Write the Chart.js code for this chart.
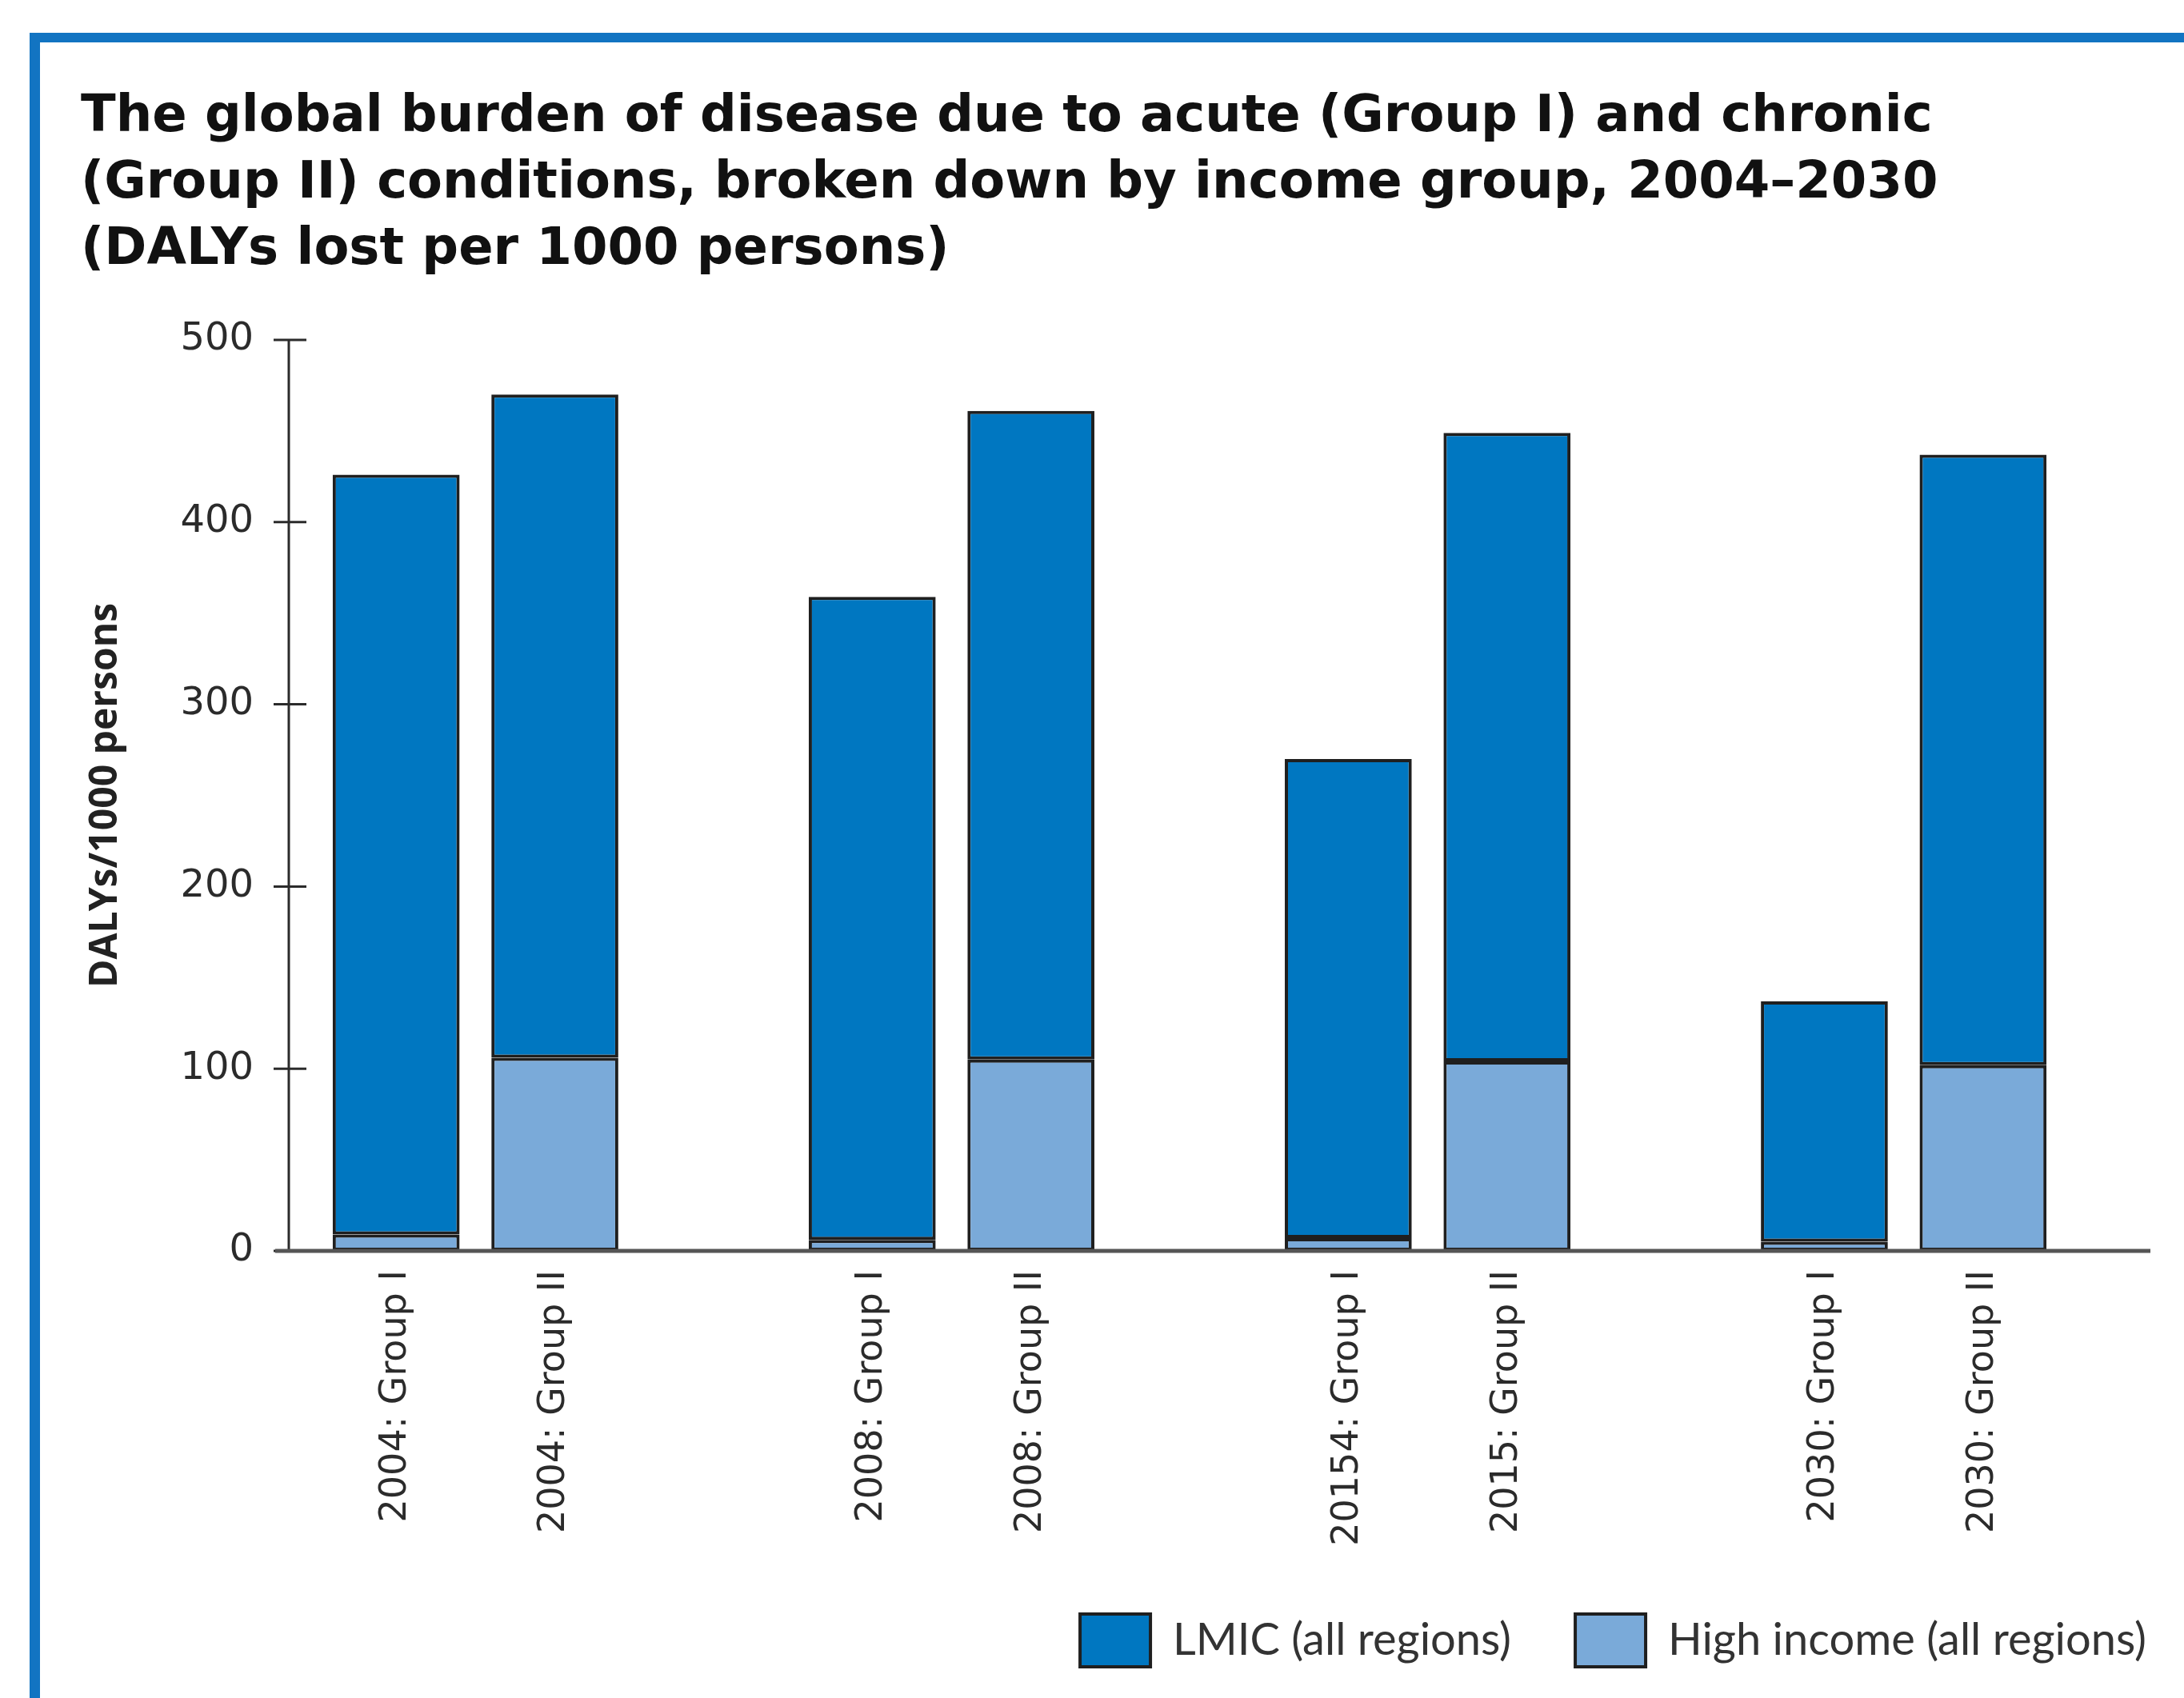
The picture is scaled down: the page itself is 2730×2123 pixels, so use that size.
<!DOCTYPE html>
<html>
<head>
<meta charset="utf-8">
<title>Global burden of disease by income group, 2004–2030</title>
<script src="https://cdn.jsdelivr.net/npm/chart.js@4.4.1/dist/chart.umd.min.js"></script>
<style>
  html, body { margin: 0; padding: 0; background: #fff; overflow: hidden; }
  #frame { position: absolute; left: 37px; top: 41px; width: 3000px; height: 3000px;
           border-top: 12px solid #1274c2; border-left: 13px solid #1274c2; }
  #wrap { position: absolute; left: 0; top: 0; width: 2730px; height: 2123px; }
</style>
</head>
<body>
<div id="frame"></div>
<div id="wrap"><canvas id="chart" width="2730" height="2123"></canvas></div>
<script>
// bar labels, two per year
const categories = ['2004: Group I', '2004: Group II', '2008: Group I', '2008: Group II',
                    '20154: Group I', '2015: Group II', '2030: Group I', '2030: Group II'];
// DALYs lost per 1000 persons
const highIncome = [9, 106, 6, 105, 7, 104, 5, 102];
const lmic = [417, 364, 353, 356, 263, 345, 132, 335];   // part above high income
const yTicks = [0, 100, 200, 300, 400, 500];

// put an empty slot between each year pair
function withGaps(arr, blank) {
    const out = [];
    arr.forEach((v, i) => {
        if (i > 0 && i % 2 === 0) out.push(blank);
        out.push(v);
    });
    return out;
}

// axis lines with ticks crossing the y axis
const axesPlugin = {
    id: 'axes',
    afterDatasetsDraw(chart) {
        const ctx = chart.ctx;
        const y = chart.scales.y;
        const area = chart.chartArea;
        const axisX = area.left - 35;
        const y0 = y.getPixelForValue(0);
        ctx.save();
        ctx.strokeStyle = '#2b2b2b';
        ctx.lineWidth = 3;
        ctx.beginPath();
        ctx.moveTo(axisX, y.getPixelForValue(yTicks[yTicks.length - 1]));
        ctx.lineTo(axisX, y0);
        yTicks.forEach(t => {
            const py = y.getPixelForValue(t);
            ctx.moveTo(axisX - 19, py);
            ctx.lineTo(axisX + 22, py);
        });
        ctx.stroke();
        ctx.strokeStyle = '#555';
        ctx.lineWidth = 5;
        ctx.beginPath();
        ctx.moveTo(axisX - 17, y0);
        ctx.lineTo(area.right + 110, y0);
        ctx.stroke();
        ctx.restore();
    }
};

Chart.defaults.font.family = 'DejaVu Sans';

new Chart(document.getElementById('chart'), {
    type: 'bar',
    data: {
        labels: withGaps(categories, ''),
        datasets: [{
            label: 'High income (all regions)',
            data: withGaps(highIncome, null),
            backgroundColor: '#7aaad9',
            borderColor: '#1f1f1f',
            borderWidth: 4,
            borderSkipped: false,
            barPercentage: 0.8,
            categoryPercentage: 1
        }, {
            label: 'LMIC (all regions)',
            data: withGaps(lmic, null),
            backgroundColor: '#0077c1',
            borderColor: '#1f1f1f',
            borderWidth: 4,
            borderSkipped: false,
            barPercentage: 0.8,
            categoryPercentage: 1
        }]
    },
    options: {
        responsive: false,
        animation: false,
        layout: { padding: { left: 101, right: -33, top: 0, bottom: 29 } },
        plugins: {
            title: {
                display: true,
                align: 'start',
                color: '#111',
                text: ['The global burden of disease due to acute (Group I) and chronic',
                       '(Group II) conditions, broken down by income group, 2004–2030',
                       '(DALYs lost per 1000 persons)'],
                font: { family: 'DejaVu Sans', size: 64, weight: 'bold', lineHeight: 1.297 },
                padding: { top: 106, bottom: 70 }
            },
            legend: {
                position: 'bottom',
                align: 'end',
                reverse: true,
                labels: {
                    boxWidth: 88,
                    boxHeight: 66,
                    padding: 80,
                    color: '#333',
                    font: { family: 'Lato', size: 56 }
                }
            },
            tooltip: { enabled: false }
        },
        scales: {
            x: {
                stacked: true,
                grid: { display: false, drawTicks: false },
                border: { display: false },
                ticks: {
                    autoSkip: false, maxRotation: 90, minRotation: 90,
                    padding: 24, color: '#2b2b2b', font: { size: 46 }
                },
                afterFit: s => { s.height = 374; }
            },
            y: {
                stacked: true,
                min: 0,
                max: 500,
                grid: { display: false, drawTicks: false },
                border: { display: false },
                ticks: { padding: 79, color: '#2b2b2b', font: { size: 48 } },
                afterBuildTicks: s => { s.ticks = yTicks.map(v => ({ value: v })); },
                title: {
                    display: true,
                    text: 'DALYs/1000 persons',
                    color: '#222',
                    font: { family: 'Open Sans', size: 48, weight: 'bold', lineHeight: 1 },
                    padding: { top: 7, bottom: 0 }
                },
                afterFit: s => { s.width = 295; }
            },
            yRight: {
                position: 'right',
                display: true,
                grid: { display: false, drawTicks: false },
                border: { display: false },
                ticks: { display: false },
                afterFit: s => { s.width = 185; }
            }
        }
    },
    plugins: [axesPlugin]
});
</script>
</body>
</html>
